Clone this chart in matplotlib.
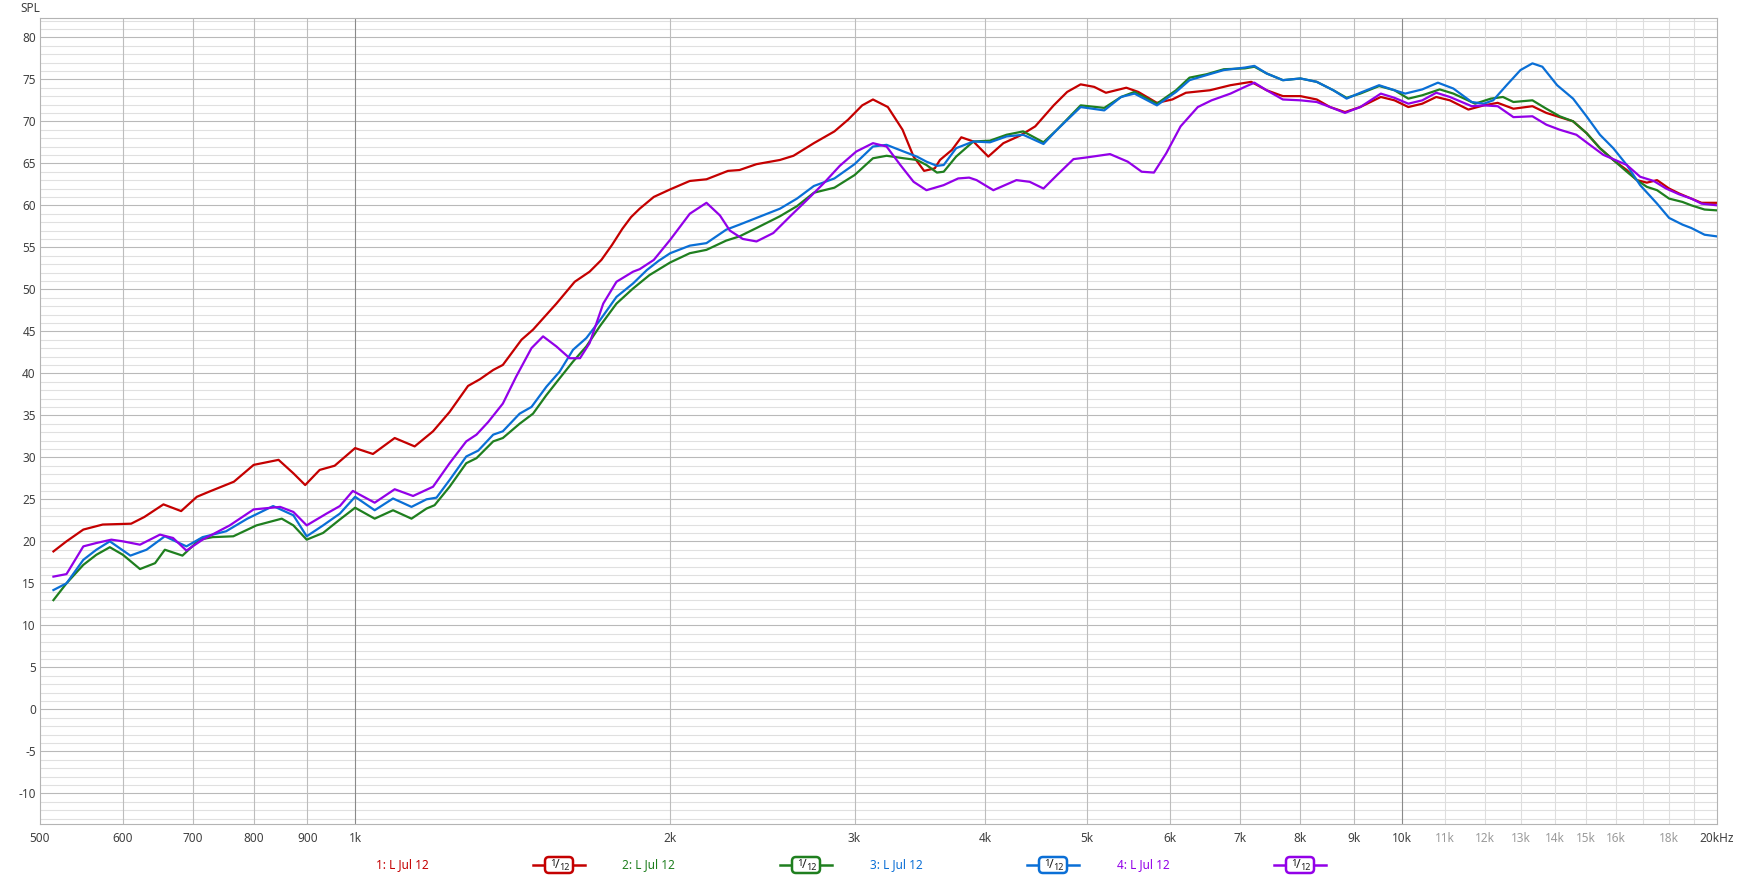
import matplotlib
matplotlib.use("Agg")
import matplotlib.pyplot as plt
from matplotlib.patches import FancyBboxPatch

plt.rcParams['font.family'] = ['Noto Sans', 'DejaVu Sans']

# trace 1 (red)
red_freq = [515, 530, 550, 574, 611, 629, 656, 682, 706, 725, 766, 800, 845, 873, 896, 925, 956,
            1000, 1040, 1091, 1140, 1187, 1231, 1282, 1316, 1355, 1384, 1442, 1479, 1557, 1621,
            1675, 1719, 1760, 1800, 1835, 1870, 1929, 2000, 2088, 2166, 2271, 2329, 2418, 2546,
            2623, 2743, 2870, 2958, 3051, 3124, 3228, 3334, 3416, 3496, 3579, 3620, 3717, 3794,
            3896, 4026, 4162, 4318, 4464, 4649, 4789, 4933, 5082, 5215, 5454, 5600, 5834, 6035,
            6218, 6556, 6859, 7179, 7426, 7697, 8000, 8292, 8538, 8823, 9125, 9547, 9838, 10143,
            10459, 10785, 11113, 11575, 11975, 12345, 12780, 13326, 13740, 14150, 14573, 15010,
            15460, 15920, 16400, 16770, 17140, 17530, 18000, 18410, 18900, 19330, 20000]
red_spl = [18.8, 20.0, 21.4, 22.0, 22.1, 22.9, 24.4, 23.6, 25.3, 25.9, 27.1, 29.1, 29.7, 28.1, 26.7,
           28.5, 29.0, 31.1, 30.4, 32.3, 31.3, 33.1, 35.4, 38.5, 39.3, 40.4, 41.0, 44.0, 45.2, 48.3,
           50.9, 52.1, 53.5, 55.3, 57.2, 58.6, 59.6, 61.0, 61.9, 62.9, 63.1, 64.1, 64.2, 64.9, 65.4,
           65.9, 67.4, 68.8, 70.2, 71.9, 72.6, 71.7, 69.0, 65.8, 64.1, 64.4, 65.4, 66.6, 68.1, 67.6,
           65.8, 67.4, 68.3, 69.4, 71.9, 73.5, 74.4, 74.1, 73.4, 74.0, 73.5, 72.2, 72.6, 73.4, 73.7,
           74.3, 74.7, 73.7, 73.0, 73.0, 72.6, 71.7, 71.1, 71.7, 72.9, 72.5, 71.7, 72.1, 72.9, 72.5,
           71.4, 71.9, 72.2, 71.5, 71.8, 71.0, 70.5, 70.0, 68.6, 66.8, 65.4, 64.2, 63.0, 62.7, 63.0,
           62.0, 61.4, 60.8, 60.3, 60.3]

# trace 2 (green)
green_freq = [515, 530, 550, 566, 583, 600, 623, 644, 658, 684, 710, 731, 765, 805, 851, 873, 899,
              932, 967, 1000, 1044, 1087, 1132, 1170, 1191, 1231, 1277, 1306, 1355, 1384, 1436, 1479,
              1523, 1568, 1615, 1663, 1713, 1777, 1843, 1911, 2000, 2088, 2166, 2262, 2329, 2418,
              2546, 2643, 2743, 2870, 3000, 3124, 3219, 3343, 3441, 3514, 3596, 3650, 3751, 3896,
              4041, 4191, 4347, 4546, 4683, 4933, 5196, 5392, 5553, 5834, 6085, 6268, 6506, 6759,
              7079, 7229, 7426, 7697, 8000, 8292, 8600, 8855, 9125, 9511, 9838, 10143, 10459, 10868,
              11200, 11748, 12160, 12490, 12780, 13326, 13740, 14150, 14573, 15010, 15460, 15920,
              16400, 16770, 17140, 17530, 18000, 18540, 18900, 19460, 20000]
green_spl = [13.0, 15.0, 17.2, 18.4, 19.3, 18.4, 16.7, 17.4, 19.0, 18.3, 20.2, 20.5, 20.6, 21.9, 22.7,
             21.9, 20.2, 21.0, 22.6, 24.0, 22.7, 23.7, 22.7, 23.9, 24.3, 26.5, 29.3, 29.9, 31.9, 32.3,
             34.0, 35.2, 37.4, 39.4, 41.4, 43.2, 45.6, 48.3, 50.1, 51.7, 53.2, 54.3, 54.7, 55.8, 56.3,
             57.3, 58.7, 59.9, 61.5, 62.1, 63.6, 65.6, 65.9, 65.6, 65.4, 64.8, 63.9, 64.0, 65.8, 67.6,
             67.7, 68.4, 68.8, 67.5, 69.0, 71.9, 71.6, 72.9, 73.5, 72.1, 73.7, 75.2, 75.6, 76.2, 76.3,
             76.5, 75.7, 74.9, 75.1, 74.7, 73.7, 72.8, 73.3, 74.2, 73.7, 72.7, 73.1, 73.8, 73.3, 72.1,
             72.7, 72.9, 72.3, 72.5, 71.5, 70.6, 70.0, 68.6, 66.8, 65.4, 64.0, 63.0, 62.2, 61.8, 60.8,
             60.4, 60.0, 59.5, 59.4]

# trace 3 (blue)
blue_freq = [515, 530, 550, 566, 583, 610, 632, 658, 690, 715, 753, 789, 835, 873, 899, 932, 967,
             1000, 1044, 1087, 1132, 1170, 1196, 1231, 1277, 1311, 1355, 1384, 1436, 1474, 1523, 1568,
             1615, 1663, 1713, 1777, 1843, 1900, 1950, 2000, 2088, 2166, 2262, 2329, 2418, 2546, 2643,
             2743, 2870, 3000, 3124, 3219, 3343, 3441, 3514, 3596, 3650, 3751, 3896, 4041, 4191, 4347,
             4546, 4683, 4933, 5196, 5392, 5553, 5834, 6085, 6268, 6506, 6759, 7079, 7229, 7426, 7697,
             8000, 8292, 8600, 8855, 9125, 9511, 9838, 10073, 10459, 10825, 11200, 11660, 11975, 12224,
             12590, 12980, 13326, 13620, 14070, 14573, 15010, 15460, 15920, 16400, 16890, 17530, 18000,
             18540, 18900, 19460, 20000]
blue_spl = [14.2, 15.0, 17.8, 19.0, 20.0, 18.3, 19.0, 20.6, 19.4, 20.5, 21.2, 22.7, 24.2, 23.1, 20.6,
            21.9, 23.3, 25.3, 23.7, 25.1, 24.1, 25.0, 25.2, 27.3, 30.1, 30.8, 32.7, 33.1, 35.2, 36.0,
            38.4, 40.2, 42.8, 44.2, 46.3, 49.1, 50.7, 52.3, 53.4, 54.3, 55.2, 55.5, 57.1, 57.7, 58.5,
            59.6, 60.8, 62.3, 63.2, 64.9, 67.0, 67.2, 66.4, 65.8, 65.2, 64.7, 64.8, 66.8, 67.6, 67.5,
            68.2, 68.4, 67.3, 69.0, 71.7, 71.3, 72.9, 73.3, 71.9, 73.5, 74.9, 75.5, 76.1, 76.4, 76.6,
            75.7, 74.9, 75.1, 74.7, 73.7, 72.7, 73.4, 74.3, 73.7, 73.3, 73.8, 74.6, 73.9, 72.3, 72.1,
            72.5, 74.3, 76.1, 76.9, 76.5, 74.3, 72.7, 70.6, 68.4, 66.8, 64.8, 62.4, 60.2, 58.5, 57.7,
            57.3, 56.5, 56.3]

# trace 4 (purple)
purple_freq = [515, 530, 550, 566, 585, 600, 623, 651, 670, 690, 715, 759, 800, 848, 873, 899, 939,
               967, 995, 1044, 1091, 1136, 1187, 1231, 1277, 1306, 1340, 1384, 1425, 1474, 1512, 1557,
               1603, 1640, 1675, 1726, 1777, 1843, 1870, 1929, 2000, 2088, 2166, 2231, 2280, 2346,
               2418, 2509, 2604, 2700, 2802, 2904, 3011, 3124, 3219, 3318, 3416, 3514, 3649, 3768,
               3860, 3924, 4071, 4283, 4410, 4546, 4683, 4856, 4998, 5262, 5471, 5642, 5796, 5955,
               6146, 6383, 6580, 6859, 7079, 7229, 7426, 7697, 8000, 8292, 8538, 8823, 9125, 9547,
               9838, 10143, 10459, 10785, 11113, 11660, 11975, 12345, 12780, 13326, 13740, 14150,
               14680, 15120, 15580, 15920, 16400, 16890, 17400, 17880, 18410, 18900, 19330, 20000]
purple_spl = [15.8, 16.1, 19.4, 19.8, 20.2, 20.0, 19.6, 20.8, 20.4, 18.9, 20.2, 21.9, 23.8, 24.1, 23.5,
              21.9, 23.3, 24.2, 26.0, 24.6, 26.2, 25.4, 26.5, 29.3, 31.9, 32.7, 34.2, 36.4, 39.6, 43.0,
              44.4, 43.2, 41.8, 41.8, 43.6, 48.3, 50.9, 52.1, 52.4, 53.5, 55.9, 59.0, 60.3, 58.8, 57.0,
              56.0, 55.7, 56.7, 58.7, 60.6, 62.6, 64.7, 66.4, 67.4, 67.0, 64.8, 62.8, 61.8, 62.4, 63.2,
              63.3, 63.0, 61.8, 63.0, 62.8, 62.0, 63.6, 65.5, 65.7, 66.1, 65.2, 64.0, 63.9, 66.2, 69.4,
              71.7, 72.5, 73.3, 74.1, 74.6, 73.7, 72.6, 72.5, 72.3, 71.7, 71.0, 71.7, 73.3, 72.8, 72.1,
              72.5, 73.4, 72.9, 71.8, 71.9, 71.8, 70.5, 70.6, 69.6, 69.0, 68.4, 67.2, 66.0, 65.5, 64.8,
              63.4, 62.9, 62.0, 61.3, 60.8, 60.2, 60.0]

trace_labels = ["1: L Jul 12", "2: L Jul 12", "3: L Jul 12", "4: L Jul 12"]
trace_colors = ["#c40000", "#1f7f1f", "#0a6fd6", "#9300e8"]

tick_freqs = [500, 600, 700, 800, 900, 1000, 2000, 3000, 4000, 5000, 6000, 7000, 8000, 9000,
              10000, 11000, 12000, 13000, 14000, 15000, 16000, 18000, 20000]
tick_labels = ["500", "600", "700", "800", "900", "1k", "2k", "3k", "4k", "5k", "6k", "7k", "8k",
               "9k", "10k", "11k", "12k", "13k", "14k", "15k", "16k", "18k", "20kHz"]
grid_freqs = [600, 700, 800, 900, 1000, 2000, 3000, 4000, 5000, 6000, 7000, 8000, 9000, 10000,
              11000, 12000, 13000, 14000, 15000, 16000, 17000, 18000, 19000]

W, H = 1737, 876
fig = plt.figure(figsize=(W / 100, H / 100), dpi=100)
ax = fig.add_axes([40 / W, (H - 824) / H, (1717 - 40) / W, (824 - 18) / H])
ax.set_xscale('log')
ax.set_xlim(500, 20000)
ax.set_ylim(-13.65, 82.3)

for v in range(-13, 83):
    ax.axhline(v, color='#b9b9b9' if v % 5 == 0 else '#e0e0e0', lw=0.8, zorder=0)
for f in grid_freqs:
    if f in (1000, 10000):
        c = '#8a8a8a'
    elif f > 10000:
        c = '#dedede'
    else:
        c = '#bdbdbd'
    ax.axvline(f, color=c, lw=0.8, zorder=0)

for fr, sp, col in zip([red_freq, green_freq, blue_freq, purple_freq],
                       [red_spl, green_spl, blue_spl, purple_spl], trace_colors):
    ax.plot(fr, sp, color=col, lw=1.6, solid_joinstyle='round', zorder=3)

ax.xaxis.set_minor_locator(matplotlib.ticker.NullLocator())
ax.set_xticks(tick_freqs, tick_labels)
ax.set_yticks(range(-10, 81, 5), [str(v) for v in range(-10, 81, 5)])
ax.tick_params(length=0, labelsize=8.5, colors='#404040')
ax.tick_params(axis='x', pad=6)
ax.tick_params(axis='y', pad=3)
for lbl, f in zip(ax.get_xticklabels(), tick_freqs):
    if 10000 < f < 20000:
        lbl.set_color('#9a9a9a')
for s in ax.spines.values():
    s.set_color('#b4b4b4')
    s.set_linewidth(0.8)

fig.text(20 / W, 1 - 8 / H, "SPL", fontsize=8.5, color='#404040', va='center', ha='left')

# legend row along the bottom, in pixel coordinates
lg = fig.add_axes([0, 0, 1, 1])
lg.set_xlim(0, W)
lg.set_ylim(H, 0)
lg.axis('off')
text_x = [402, 648, 896, 1143]
badge_x = [559, 806, 1053, 1300]
ly = 865
for lab, col, tx, bx in zip(trace_labels, trace_colors, text_x, badge_x):
    lg.text(tx, ly, lab, color=col, fontsize=8.5, ha='center', va='center')
    lg.plot([bx - 26, bx - 15], [ly, ly], color=col, lw=1.8)
    lg.plot([bx + 15, bx + 26], [ly, ly], color=col, lw=1.8)
    lg.add_patch(FancyBboxPatch((bx - 14, ly - 8), 28, 16, boxstyle="round,pad=0,rounding_size=4",
                                fc='white', ec=col, lw=1.8))
    lg.text(bx - 6.5, ly - 2, "1", fontsize=7, color='#202020', ha='center', va='center')
    lg.text(bx - 2, ly, "/", fontsize=9, color='#202020', ha='center', va='center')
    lg.text(bx + 5.5, ly + 2.5, "12", fontsize=6.5, color='#202020', ha='center', va='center')

fig.savefig("out.png", dpi=100, facecolor='white')
